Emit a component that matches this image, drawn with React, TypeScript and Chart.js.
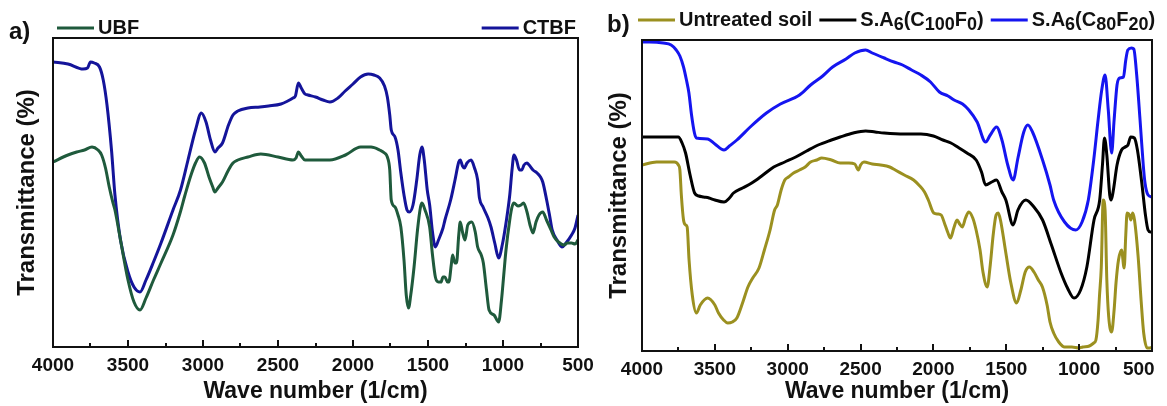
import React, { useEffect, useRef } from "react";
import { Chart, registerables } from "chart.js";

Chart.register(...registerables);

// ---------- Panel a) data (wavenumber in 1/cm, transmittance in arbitrary units) ----------
const ctbfWave = [4000, 3900, 3800, 3770, 3750, 3725, 3690, 3665, 3640, 3610, 3587, 3550, 3500, 3460, 3420, 3380, 3330, 3280, 3200, 3150, 3100, 3050, 3011, 2980, 2950, 2921, 2900, 2870, 2830, 2800, 2768, 2700, 2620, 2563, 2480, 2435, 2400, 2384, 2364, 2345, 2320, 2300, 2250, 2200, 2154, 2100, 2052, 2000, 1950, 1899, 1860, 1822, 1790, 1771, 1755, 1745, 1720, 1700, 1681, 1660, 1640, 1625, 1600, 1575, 1555, 1540, 1525, 1505, 1489, 1470, 1451, 1430, 1400, 1387, 1349, 1320, 1295, 1285, 1270, 1258, 1240, 1213, 1190, 1169, 1157, 1133, 1100, 1080, 1055, 1029, 1005, 980, 955, 940, 927, 910, 890, 875, 860, 840, 826, 800, 773, 750, 735, 709, 690, 672, 640, 607, 580, 543, 520, 500];
const ctbfT = [285, 283, 278, 279, 285, 284, 280, 267, 242, 197, 152, 107, 75, 60, 55, 67, 85, 104, 137, 157, 187, 217, 234, 225, 207, 195, 199, 204, 222, 232, 236, 239, 240, 241, 243, 246, 249, 251, 264, 259, 253, 252, 250, 247, 245, 249, 256, 263, 270, 273, 272, 269, 261, 250, 232, 217, 210, 197, 174, 152, 137, 135, 142, 167, 192, 200, 187, 157, 142, 115, 100, 107, 119, 127, 147, 167, 185, 187, 181, 179, 184, 187, 179, 167, 149, 140, 129, 120, 104, 89, 102, 124, 152, 177, 192, 187, 177, 177, 182, 184, 182, 177, 174, 170, 165, 147, 132, 117, 107, 100, 104, 112, 119, 132];

const ubfWave = [4000, 3900, 3842, 3790, 3740, 3700, 3676, 3650, 3625, 3600, 3587, 3550, 3500, 3460, 3420, 3380, 3330, 3280, 3200, 3153, 3120, 3080, 3050, 3023, 2990, 2960, 2935, 2921, 2900, 2870, 2830, 2800, 2768, 2700, 2615, 2500, 2400, 2380, 2364, 2345, 2320, 2250, 2154, 2050, 1949, 1880, 1822, 1790, 1771, 1755, 1745, 1720, 1700, 1681, 1660, 1645, 1630, 1615, 1593, 1570, 1550, 1540, 1520, 1489, 1470, 1451, 1430, 1413, 1400, 1387, 1370, 1361, 1345, 1336, 1320, 1310, 1295, 1285, 1270, 1253, 1235, 1208, 1185, 1169, 1145, 1131, 1110, 1093, 1060, 1029, 1010, 995, 980, 955, 940, 927, 900, 880, 863, 840, 820, 800, 780, 760, 735, 710, 680, 659, 630, 594, 570, 543, 520, 500];
const ubfT = [185, 192, 195, 197, 200, 197, 192, 179, 160, 144, 137, 107, 67, 45, 37, 49, 67, 84, 112, 134, 152, 172, 184, 190, 184, 170, 160, 155, 159, 165, 177, 184, 187, 190, 193, 190, 187, 189, 195, 191, 187, 187, 187, 192, 200, 200, 197, 194, 190, 177, 147, 140, 132, 120, 87, 52, 39, 52, 80, 117, 140, 144, 137, 120, 92, 70, 65, 65, 70, 70, 65, 65, 82, 92, 84, 84, 112, 125, 115, 107, 122, 125, 115, 100, 92, 84, 57, 37, 32, 25, 47, 72, 97, 127, 140, 144, 141, 142, 144, 135, 122, 114, 125, 132, 135, 127, 117, 110, 105, 102, 104, 104, 103, 107];

// ---------- Panel b) data ----------
const soilWave = [4000, 3900, 3854, 3778, 3750, 3740, 3730, 3715, 3700, 3690, 3677, 3655, 3627, 3600, 3550, 3500, 3475, 3440, 3412, 3380, 3349, 3310, 3273, 3240, 3197, 3160, 3121, 3090, 3071, 3045, 3020, 2995, 2960, 2919, 2880, 2843, 2800, 2767, 2700, 2640, 2580, 2540, 2515, 2500, 2477, 2420, 2363, 2300, 2262, 2200, 2136, 2100, 2061, 2035, 1998, 1970, 1947, 1920, 1900, 1883, 1860, 1838, 1820, 1802, 1780, 1757, 1730, 1707, 1680, 1660, 1631, 1610, 1590, 1570, 1555, 1540, 1503, 1470, 1429, 1400, 1370, 1341, 1310, 1280, 1252, 1220, 1200, 1175, 1140, 1100, 1050, 1000, 975, 930, 900, 885, 870, 860, 848, 835, 822, 810, 797, 777, 760, 747, 730, 709, 691, 680, 671, 655, 645, 633, 620, 595, 575, 557, 533, 515, 500];
const soilT = [186, 189, 189, 189, 186, 181, 156, 131, 126, 124, 91, 56, 38, 46, 53, 46, 38, 31, 28, 29, 33, 48, 64, 73, 83, 101, 121, 141, 146, 161, 171, 174, 178, 181, 184, 189, 191, 193, 191, 188, 188, 187, 181, 186, 189, 187, 186, 184, 181, 176, 171, 166, 159, 151, 138, 137, 136, 126, 118, 113, 123, 131, 127, 124, 133, 139, 133, 121, 101, 79, 64, 86, 116, 136, 138, 131, 98, 69, 48, 61, 79, 84, 79, 71, 64, 46, 29, 18, 9, 4, 4, 3, 4, 5, 8, 11, 31, 56, 84, 151, 141, 71, 34, 19, 41, 68, 91, 101, 83, 116, 138, 136, 131, 138, 131, 94, 51, 18, 3, 3, 4];

const c100Wave = [4000, 3900, 3751, 3725, 3701, 3670, 3639, 3610, 3577, 3540, 3500, 3437, 3400, 3372, 3310, 3247, 3170, 3096, 3020, 2945, 2870, 2791, 2700, 2640, 2550, 2465, 2400, 2338, 2200, 2086, 2000, 1935, 1880, 1834, 1770, 1707, 1670, 1642, 1600, 1567, 1530, 1503, 1453, 1420, 1366, 1310, 1251, 1190, 1124, 1080, 1035, 990, 947, 898, 859, 840, 826, 810, 790, 780, 765, 740, 709, 684, 665, 646, 621, 600, 570, 545, 527, 510, 500];
const c100T = [214, 214, 214, 208, 198, 176, 158, 155, 154, 153, 151, 149, 153, 158, 163, 168, 176, 184, 189, 194, 200, 206, 211, 214, 218, 220, 219, 218, 217, 217, 215, 211, 208, 204, 198, 191, 179, 166, 169, 171, 159, 151, 126, 141, 151, 144, 131, 106, 78, 63, 53, 61, 84, 131, 151, 186, 213, 196, 156, 151, 161, 186, 201, 204, 206, 214, 213, 201, 168, 136, 121, 119, 119];

const c80Wave = [4000, 3950, 3854, 3800, 3765, 3740, 3715, 3695, 3678, 3660, 3640, 3627, 3550, 3500, 3437, 3400, 3349, 3250, 3146, 3050, 2919, 2843, 2760, 2692, 2600, 2540, 2465, 2420, 2338, 2270, 2212, 2150, 2086, 2020, 1959, 1900, 1858, 1800, 1757, 1700, 1642, 1610, 1567, 1530, 1490, 1453, 1420, 1380, 1352, 1320, 1251, 1200, 1175, 1100, 1023, 980, 937, 900, 870, 845, 822, 800, 777, 760, 740, 721, 696, 680, 666, 640, 625, 605, 582, 560, 548, 527, 500];
const c80T = [309, 309, 308, 306, 301, 295, 284, 271, 258, 236, 218, 213, 212, 207, 201, 205, 211, 225, 238, 247, 256, 266, 275, 284, 292, 298, 301, 298, 293, 289, 286, 281, 276, 269, 259, 255, 251, 247, 241, 229, 209, 216, 224, 211, 186, 171, 193, 219, 226, 219, 191, 166, 151, 129, 121, 129, 151, 191, 231, 261, 276, 241, 198, 231, 266, 273, 274, 291, 301, 303, 302, 276, 231, 186, 168, 156, 154];

// ---------- Axis ticks ----------
const xTickLabels = [4000, 3500, 3000, 2500, 2000, 1500, 1000, 500];
const xMinorTicks = [3750, 3250, 2750, 2250, 1750, 1250, 750];

// ---------- Legend text ----------
type Run = { t: string; sub?: boolean };
const legendA: { label: Run[]; color: string }[] = [
  { label: [{ t: "UBF" }], color: "#1f5a3c" },
  { label: [{ t: "CTBF" }], color: "#14149a" },
];
const legendB: { label: Run[]; color: string }[] = [
  { label: [{ t: "Untreated soil" }], color: "#9b9020" },
  { label: [{ t: "S.A" }, { t: "6", sub: true }, { t: "(C" }, { t: "100", sub: true }, { t: "F" }, { t: "0", sub: true }, { t: ")" }], color: "#000000" },
  { label: [{ t: "S.A" }, { t: "6", sub: true }, { t: "(C" }, { t: "80", sub: true }, { t: "F" }, { t: "20", sub: true }, { t: ")" }], color: "#1515f0" },
];

const FONT = '"Liberation Sans", Arial, Helvetica, sans-serif';

const toPoints = (xs: number[], ys: number[]) => xs.map((x, i) => ({ x, y: ys[i] }));

function measureRuns(ctx: CanvasRenderingContext2D, runs: Run[]) {
  let w = 0;
  for (const r of runs) {
    ctx.font = `bold ${r.sub ? 18 : 20}px ${FONT}`;
    w += ctx.measureText(r.t).width;
  }
  return w;
}

function drawRuns(ctx: CanvasRenderingContext2D, runs: Run[], x: number, y: number) {
  let cx = x;
  ctx.textBaseline = "middle";
  ctx.textAlign = "left";
  ctx.fillStyle = "#111";
  for (const r of runs) {
    ctx.font = `bold ${r.sub ? 18 : 20}px ${FONT}`;
    ctx.fillText(r.t, cx, r.sub ? y + 5 : y);
    cx += ctx.measureText(r.t).width;
  }
}

type PanelCfg = {
  panelLabel: string;
  panelLabelX: number;
  panelLabelY: number;
  legend: { label: Run[]; color: string }[];
  legendY: number;
  legendMode: "spread" | "row";
  legendStartX: number;
};

function makeDecorPlugin(cfg: PanelCfg) {
  return {
    id: "decor",
    afterDraw(chart: any) {
      const { ctx, chartArea: a } = chart;
      const x = chart.scales.x;
      ctx.save();
      // frame
      ctx.strokeStyle = "#111";
      ctx.lineWidth = 2;
      ctx.strokeRect(a.left, a.top, a.right - a.left, a.bottom - a.top);
      // inward ticks
      const drawTick = (v: number, len: number) => {
        const px = Math.round(x.getPixelForValue(v));
        ctx.beginPath();
        ctx.moveTo(px, a.bottom);
        ctx.lineTo(px, a.bottom - len);
        ctx.stroke();
      };
      xTickLabels.forEach((v) => drawTick(v, 7));
      xMinorTicks.forEach((v) => drawTick(v, 4));
      // panel label
      ctx.fillStyle = "#111";
      ctx.font = `bold 24px ${FONT}`;
      ctx.textBaseline = "alphabetic";
      ctx.textAlign = "left";
      ctx.fillText(cfg.panelLabel, cfg.panelLabelX, cfg.panelLabelY);
      // legend
      const lineLen = 37;
      const gapText = 4;
      const gapItem = 7;
      const y = cfg.legendY;
      const drawItem = (item: { label: Run[]; color: string }, sx: number) => {
        ctx.strokeStyle = item.color;
        ctx.lineWidth = 3;
        ctx.beginPath();
        ctx.moveTo(sx, y);
        ctx.lineTo(sx + lineLen, y);
        ctx.stroke();
        drawRuns(ctx, item.label, sx + lineLen + gapText, y);
        return sx + lineLen + gapText + measureRuns(ctx, item.label);
      };
      if (cfg.legendMode === "spread") {
        drawItem(cfg.legend[0], cfg.legendStartX);
        const last = cfg.legend[cfg.legend.length - 1];
        const w = lineLen + gapText + measureRuns(ctx, last.label);
        drawItem(last, a.right - w - 2);
      } else {
        let sx = cfg.legendStartX;
        for (const item of cfg.legend) {
          sx = drawItem(item, sx) + gapItem;
        }
      }
      ctx.restore();
    },
  };
}

type ChartSpec = {
  width: number;
  height: number;
  datasets: any[];
  yMax: number;
  axisLeft: number;
  plotRight: number;
  plotTop: number;
  plotBottom: number;
  yTitlePad: number;
  tickPad: number;
  lastLabelSuffix: string;
  decor: PanelCfg;
};

function Panel({ spec, left }: { spec: ChartSpec; left: number }) {
  const ref = useRef<HTMLCanvasElement | null>(null);
  useEffect(() => {
    if (!ref.current) return;
    const chart = new Chart(ref.current, {
      type: "line",
      data: { datasets: spec.datasets },
      options: {
        responsive: false,
        animation: false,
        devicePixelRatio: 1,
        layout: {
          padding: { left: 0, top: spec.plotTop, right: spec.width - spec.plotRight, bottom: 0 },
        },
        elements: { point: { radius: 0 }, line: { borderWidth: 3, cubicInterpolationMode: "monotone" } },
        plugins: { legend: { display: false }, tooltip: { enabled: false }, title: { display: false } },
        scales: {
          x: {
            type: "linear",
            reverse: true,
            min: 500,
            max: 4000,
            grid: { display: false, drawTicks: false },
            border: { display: false },
            afterBuildTicks: (scale: any) => {
              scale.ticks = xTickLabels.map((v) => ({ value: v }));
            },
            ticks: {
              padding: spec.tickPad,
              color: "#111",
              font: { family: FONT, size: 19, weight: "bold" },
              maxRotation: 0,
              autoSkip: false,
              callback: (v: any) => (Number(v) === 500 ? "500" + spec.lastLabelSuffix : String(v)),
            },
            title: {
              display: true,
              text: "Wave number (1/cm)",
              color: "#111",
              font: { family: FONT, size: 23, weight: "bold" },
              padding: { top: 0, bottom: 1 },
            },
            afterFit: (scale: any) => {
              scale.height = spec.height - spec.plotBottom;
            },
          },
          y: {
            min: 0,
            max: spec.yMax,
            grid: { display: false, drawTicks: false },
            border: { display: false },
            ticks: { display: false },
            title: {
              display: true,
              text: "Transmittance (%)",
              color: "#111",
              font: { family: FONT, size: 24, weight: "bold" },
              padding: { top: spec.yTitlePad, bottom: 0 },
            },
            afterFit: (scale: any) => {
              scale.width = spec.axisLeft;
            },
          },
        },
      } as any,
      plugins: [makeDecorPlugin(spec.decor)],
    });
    return () => chart.destroy();
  }, [spec]);
  return (
    <canvas
      ref={ref}
      width={spec.width}
      height={spec.height}
      style={{ position: "absolute", left, top: 0, width: spec.width, height: spec.height }}
    />
  );
}

const ds = (label: string, xs: number[], ys: number[], color: string) => ({
  label,
  data: toPoints(xs, ys),
  borderColor: color,
  backgroundColor: color,
  fill: false,
});

const specA: ChartSpec = {
  width: 610,
  height: 406,
  datasets: [
    ds("UBF", ubfWave, ubfT, legendA[0].color),
    ds("CTBF", ctbfWave, ctbfT, legendA[1].color),
  ],
  yMax: 309,
  axisLeft: 53,
  plotRight: 578,
  plotTop: 38,
  plotBottom: 347,
  yTitlePad: 13,
  tickPad: 7,
  lastLabelSuffix: "",
  decor: {
    panelLabel: "a)",
    panelLabelX: 9,
    panelLabelY: 39,
    legend: legendA,
    legendY: 28,
    legendMode: "spread",
    legendStartX: 57,
  },
};

const specB: ChartSpec = {
  width: 610,
  height: 406,
  datasets: [
    ds("Untreated soil", soilWave, soilT, legendB[0].color),
    ds("S.A6(C100F0)", c100Wave, c100T, legendB[1].color),
    ds("S.A6(C80F20)", c80Wave, c80T, legendB[2].color),
  ],
  yMax: 311,
  axisLeft: 52,
  plotRight: 562,
  plotTop: 40,
  plotBottom: 351,
  yTitlePad: 15,
  tickPad: 7,
  lastLabelSuffix: "     ",
  decor: {
    panelLabel: "b)",
    panelLabelX: 17,
    panelLabelY: 32,
    legend: legendB,
    legendY: 20,
    legendMode: "row",
    legendStartX: 48,
  },
};

export default function App() {
  return (
    <div
      style={{
        position: "fixed",
        left: 0,
        top: 0,
        width: 1167,
        height: 406,
        overflow: "hidden",
        background: "#ffffff",
      }}
    >
      <Panel spec={specA} left={0} />
      <Panel spec={specB} left={590} />
    </div>
  );
}
